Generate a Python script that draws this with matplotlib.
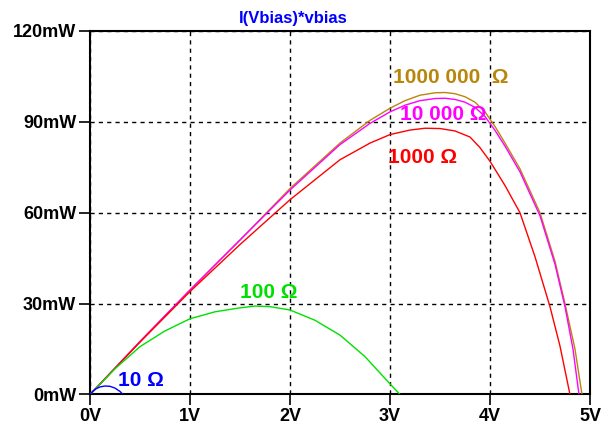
import matplotlib
matplotlib.use("Agg")
import matplotlib.pyplot as plt

# power curves (V, mW)
v_1M = [0, 0.5, 1.0, 1.5, 2.0, 2.5, 2.8, 3.0, 3.15, 3.3, 3.45, 3.55, 3.65, 3.75, 3.85, 3.95, 4.05, 4.15, 4.3, 4.5, 4.65, 4.75, 4.85, 4.92]
p_1M = [0, 17.5, 34.5, 51, 68, 83, 90.5, 94.5, 97, 98.8, 99.6, 99.7, 99.3, 98.3, 96.5, 93.3, 88.5, 83, 74.5, 60, 44, 30, 15, 0]

v_10k = [0, 0.5, 1.0, 1.5, 2.0, 2.5, 2.8, 3.0, 3.15, 3.3, 3.45, 3.55, 3.65, 3.75, 3.85, 3.95, 4.05, 4.15, 4.3, 4.5, 4.65, 4.75, 4.83, 4.89]
p_10k = [0, 17.5, 34.5, 51, 67.5, 82.5, 89.5, 93.3, 95.5, 97, 97.7, 97.8, 97.4, 96.5, 94.8, 91.8, 87.2, 82, 73.5, 59, 43, 29, 15, 0]

v_1k = [0, 0.5, 1.0, 1.5, 2.0, 2.5, 2.8, 3.0, 3.2, 3.35, 3.5, 3.65, 3.8, 3.9, 4.0, 4.15, 4.3, 4.45, 4.6, 4.7, 4.8]
p_1k = [0, 17.3, 34, 49.5, 64.3, 77.5, 83, 85.8, 87.3, 87.9, 87.8, 87, 85, 81.5, 77, 69, 60, 45.5, 29, 16, 0]

v_100 = [0, 0.25, 0.5, 0.75, 1.0, 1.25, 1.5, 1.65, 1.8, 2.0, 2.25, 2.5, 2.75, 3.0, 3.1]
p_100 = [0, 8.5, 15.8, 21, 25, 27.3, 28.6, 29.2, 29.0, 27.9, 24.5, 19.6, 12.5, 3.5, 0]

v_10 = [0, 0.03, 0.06, 0.1, 0.15, 0.2, 0.25, 0.3, 0.33]
p_10 = [0, 1.1, 1.9, 2.5, 2.8, 2.7, 2.1, 1.0, 0]

x_ticks = [0, 1, 2, 3, 4, 5]
x_labels = ["0V", "1V", "2V", "3V", "4V", "5V"]
y_ticks = [0, 30, 60, 90, 120]
y_labels = ["0mW", "30mW", "60mW", "90mW", "120mW"]

gold = "#B8860B"

plt.rcParams['font.family'] = ['Liberation Sans', 'DejaVu Sans']

fig = plt.figure(figsize=(6.03, 4.36), dpi=100)
ax = fig.add_axes([0.1493, 0.0952, 0.8291, 0.8337])

ax.plot(v_1M, p_1M, color=gold, lw=1.0, zorder=3)
ax.plot(v_10k, p_10k, color="#FF00FF", lw=1.0, zorder=3)
ax.plot(v_1k, p_1k, color="#FF0000", lw=1.0, zorder=3)
ax.plot(v_100, p_100, color="#00E000", lw=1.0, zorder=3)
ax.plot(v_10, p_10, color="#0000FF", lw=1.0, zorder=3)

lab = dict(fontsize=15, fontweight="bold", va="center", ha="left")
ax.text(3.03, 104.8, "1000 000  \u03a9", color=gold, **lab)
ax.text(3.10, 92.5, "10 000 \u03a9", color="#FF00FF", **lab)
ax.text(2.98, 78.4, "1000 \u03a9", color="#FF0000", **lab)
ax.text(1.50, 33.8, "100 \u03a9", color="#00E000", **lab)
ax.text(0.28, 4.6, "10 \u03a9", color="#0000FF", **lab)

ax.set_xlim(0, 5)
ax.set_ylim(0, 120)
ax.set_xticks(x_ticks)
ax.set_xticklabels(x_labels)
ax.set_yticks(y_ticks)
ax.set_yticklabels(y_labels)
ax.tick_params(direction="out", length=8, width=1.2, labelsize=13, pad=2)
for t in ax.get_xticklabels() + ax.get_yticklabels():
    t.set_fontweight("bold")
ax.grid(True, color="black", linestyle=(0, (3, 3)), lw=1.0)
for s in ax.spines.values():
    s.set_linewidth(1.5)
    s.set_color("black")

ax.text(0.406, 1.035, "I(Vbias)*vbias", transform=ax.transAxes, color="#0000FF",
        fontsize=12, fontweight="bold", ha="center", va="center")

fig.savefig("out.png", dpi=100, facecolor="white")
